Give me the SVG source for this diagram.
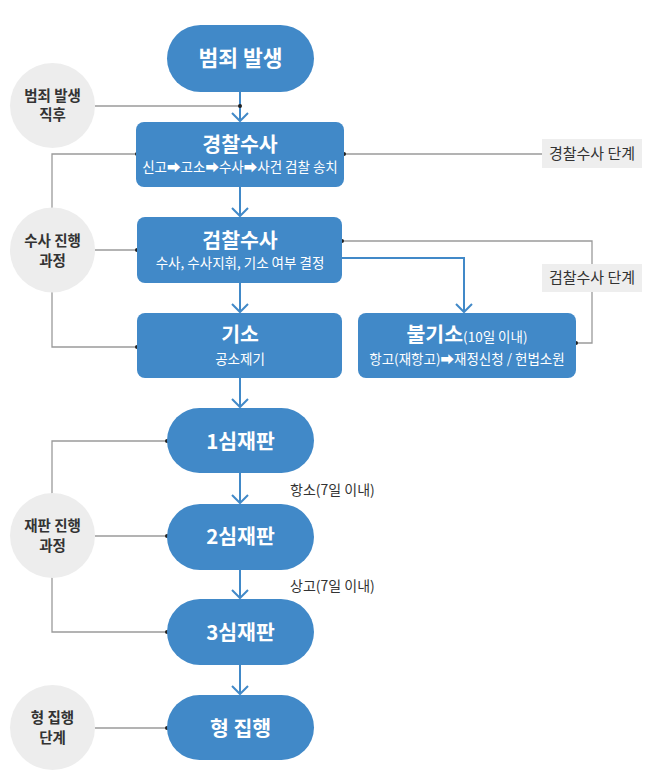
<svg xmlns="http://www.w3.org/2000/svg" width="659" height="781" viewBox="0 0 659 781">
<style>
.n{fill:#4189c8}
.t{font-family:"Noto Sans CJK KR","Noto Sans",sans-serif;fill:#fff;text-anchor:middle}
.tb{font-weight:bold;font-size:20.5px}
.ts{font-size:13.5px}
.c{fill:#ededed}
.ct{font-family:"Noto Sans CJK KR","Noto Sans",sans-serif;fill:#333;font-weight:bold;font-size:14.5px;text-anchor:middle}
.lb{fill:#eeeeee}
.lt{font-family:"Noto Sans CJK KR","Noto Sans",sans-serif;fill:#333;font-size:15px;text-anchor:middle}
.gl{fill:none;stroke:#9a9a9a;stroke-width:1.3}
.bl{fill:none;stroke:#4189c8;stroke-width:2}
.dot{fill:#222}
.et{font-family:"Noto Sans CJK KR","Noto Sans",sans-serif;fill:#333;font-size:14px}
</style>
<defs>
<marker id="ah" markerUnits="userSpaceOnUse" viewBox="-10 -10 20 20" refX="0" refY="0" markerWidth="20" markerHeight="20" orient="auto">
<path d="M-8,-8 L0,0 L-8,8" fill="none" stroke="#4189c8" stroke-width="2"/>
</marker>
</defs>
<g id="connectors">
<path class="gl" d="M95,106 H240"/>
<path class="gl" d="M344,154 H542"/>
<path class="gl" d="M342,241 H592 V343 H576"/>
<path class="gl" d="M137,154 H52 V347 H137"/>
<path class="gl" d="M95,250 H137"/>
<path class="gl" d="M167,441 H52 V632 H167"/>
<path class="gl" d="M95,536 H167"/>
<path class="gl" d="M95,728 H167"/>
<path class="bl" d="M240,92 V121"/>
<path class="bl" d="M240,187 V216"/>
<path class="bl" d="M240,283 V312"/>
<path class="bl" d="M342,258 H464 V312"/>
<path class="bl" d="M240,378 V407"/>
<path class="bl" d="M240,473 V503"/>
<path class="bl" d="M240,570 V598"/>
<path class="bl" d="M240,665 V694"/>
<g fill="none" stroke="#4189c8" stroke-width="2">
<path d="M232,113 L240,121 L248,113"/>
<path d="M232,208 L240,216 L248,208"/>
<path d="M232,304 L240,312 L248,304"/>
<path d="M456,304 L464,312 L472,304"/>
<path d="M232,399 L240,407 L248,399"/>
<path d="M232,495 L240,503 L248,495"/>
<path d="M232,590 L240,598 L248,590"/>
<path d="M232,686 L240,694 L248,686"/>
</g>
<circle class="dot" cx="240" cy="106" r="2"/>
<circle class="dot" cx="344" cy="154" r="2"/>
<circle class="dot" cx="137" cy="154" r="2"/>
<circle class="dot" cx="342" cy="241" r="2"/>
<circle class="dot" cx="576" cy="343" r="2"/>
<circle class="dot" cx="137" cy="250" r="2"/>
<circle class="dot" cx="137" cy="347" r="2"/>
<circle class="dot" cx="167" cy="441" r="2"/>
<circle class="dot" cx="167" cy="536" r="2"/>
<circle class="dot" cx="167" cy="632" r="2"/>
<circle class="dot" cx="167" cy="728" r="2"/>
<text class="et" x="290" y="495">항소(7일 이내)</text>
<text class="et" x="290" y="591">상고(7일 이내)</text>
</g>
<g id="n-crime">
<rect class="n" x="167" y="25" width="147" height="67" rx="33.5"/>
<text class="t" x="240.5" y="66" font-size="21.5" font-weight="bold">범죄 발생</text>
</g>
<g id="n-police">
<rect class="n" x="136" y="122" width="208" height="65" rx="8"/>
<text class="t tb" x="240" y="152">경찰수사</text>
<text class="t ts" x="240" y="172">신고➡고소➡수사➡사건 검찰 송치</text>
</g>
<g id="n-prosecution">
<rect class="n" x="137" y="217" width="205" height="66" rx="8"/>
<text class="t tb" x="240" y="248">검찰수사</text>
<text class="t ts" x="240" y="268">수사, 수사지휘, 기소 여부 결정</text>
</g>
<g id="n-indict">
<rect class="n" x="137" y="313" width="205" height="65" rx="8"/>
<text class="t tb" x="240" y="342">기소</text>
<text class="t ts" x="240" y="364">공소제기</text>
</g>
<g id="n-nonindict">
<rect class="n" x="358" y="313" width="218" height="65" rx="8"/>
<text class="t" x="467" y="342"><tspan font-size="20.5" font-weight="bold">불기소</tspan><tspan font-size="13.5">(10일 이내)</tspan></text>
<text class="t ts" x="467" y="364">항고(재항고)➡재정신청 / 헌법소원</text>
</g>
<g id="n-trial1">
<rect class="n" x="167" y="408" width="147" height="65" rx="32.5"/>
<text class="t tb" x="240.5" y="449">1심재판</text>
</g>
<g id="n-trial2">
<rect class="n" x="167" y="504" width="147" height="66" rx="33"/>
<text class="t tb" x="240.5" y="544">2심재판</text>
</g>
<g id="n-trial3">
<rect class="n" x="167" y="599" width="147" height="66" rx="33"/>
<text class="t tb" x="240.5" y="640">3심재판</text>
</g>
<g id="n-exec">
<rect class="n" x="167" y="695" width="147" height="65" rx="32.5"/>
<text class="t tb" x="240.5" y="736">형 집행</text>
</g>
<g id="c-after">
<circle class="c" cx="52.5" cy="105.5" r="42.5"/>
<text class="ct" x="52.5" y="101">범죄 발생</text>
<text class="ct" x="52.5" y="120">직후</text>
</g>
<g id="c-invest">
<circle class="c" cx="52.5" cy="250" r="42.5"/>
<text class="ct" x="52.5" y="246">수사 진행</text>
<text class="ct" x="52.5" y="266">과정</text>
</g>
<g id="c-trial">
<circle class="c" cx="52.5" cy="535.5" r="42.5"/>
<text class="ct" x="52.5" y="531">재판 진행</text>
<text class="ct" x="52.5" y="551">과정</text>
</g>
<g id="c-exec">
<circle class="c" cx="52.5" cy="727.5" r="42.5"/>
<text class="ct" x="52.5" y="723">형 집행</text>
<text class="ct" x="52.5" y="743">단계</text>
</g>
<g id="l-police">
<rect class="lb" x="542" y="139" width="100" height="29"/>
<text class="lt" x="592" y="159">경찰수사 단계</text>
</g>
<g id="l-prosecution">
<rect class="lb" x="542" y="264" width="100" height="28"/>
<text class="lt" x="592" y="283">검찰수사 단계</text>
</g>
</svg>
